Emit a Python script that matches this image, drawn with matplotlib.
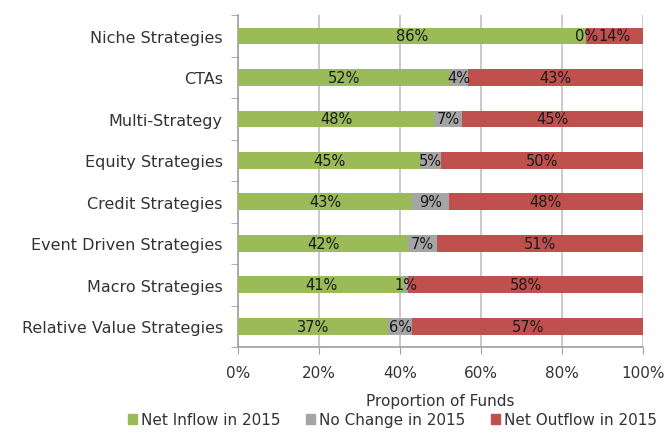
import matplotlib
matplotlib.use("Agg")
import matplotlib.pyplot as plt
import numpy as np
from matplotlib.patches import Patch

categories = ["Niche Strategies", "CTAs", "Multi-Strategy", "Equity Strategies",
              "Credit Strategies", "Event Driven Strategies", "Macro Strategies",
              "Relative Value Strategies"]
net_inflow = [86, 52.3, 48.4, 45, 43, 42, 41, 37]
no_change = [0, 4.5, 6.8, 5, 9, 7, 1, 6]
net_outflow = [14, 43.2, 44.8, 50, 48, 51, 58, 57]
series_names = ["Net Inflow in 2015", "No Change in 2015", "Net Outflow in 2015"]
colors = ["#9BBB59", "#A5A5A5", "#C0504D"]
xticks = [0, 20, 40, 60, 80, 100]

plt.rcParams['font.family'] = ['DejaVu Sans']

fig = plt.figure(figsize=(6.65, 4.35), dpi=100)
ax = fig.add_axes([0.358, 0.2, 0.609, 0.763])

y = np.arange(len(categories))
left = np.zeros(len(categories))
for vals, col in zip([net_inflow, no_change, net_outflow], colors):
    vals = np.array(vals, dtype=float)
    ax.barh(y, vals, left=left, height=0.4, color=col, zorder=3)
    for yi, l, v in zip(y, left, vals):
        ax.text(l + v / 2, yi, f"{v:.0f}%", ha="center", va="center",
                fontsize=10.5, color="#1a1a1a", zorder=4)
    left += vals

ax.set_xlim(0, 100)
ax.set_ylim(len(categories) - 0.5, -0.5)
ax.set_xticks(xticks)
ax.set_xticklabels([f"{t}%" for t in xticks], fontsize=11, color="#333333")
ax.set_yticks(y)
ax.set_yticklabels(categories, fontsize=11.5, color="#333333")
ax.tick_params(axis="y", length=0, pad=11)
ax.set_yticks(np.arange(-0.5, len(categories) + 0.5, 1), minor=True)
ax.tick_params(axis="y", which="minor", length=5, color="#A0A0A0", direction="out")
ax.tick_params(axis="x", length=5, color="#A0A0A0", direction="out", pad=8)
ax.grid(axis="x", color="#C0C0C0", linewidth=1.2, zorder=0)
for s in ["top", "right"]:
    ax.spines[s].set_visible(False)
for s in ["left", "bottom"]:
    ax.spines[s].set_color("#A0A0A0")
    ax.spines[s].set_linewidth(1.2)
ax.set_xlabel("Proportion of Funds", fontsize=11, color="#333333", labelpad=9)

handles = [Patch(color=c, label=n) for c, n in zip(colors, series_names)]
fig.legend(handles=handles, loc="center", bbox_to_anchor=(0.59, 1 - 421 / 435), ncol=3,
           frameon=False, fontsize=11, handlelength=0.6, handleheight=0.6,
           handletextpad=0.25, columnspacing=1.7, labelcolor="#333333",
           borderpad=0.1)

fig.savefig("out.png", dpi=100)
